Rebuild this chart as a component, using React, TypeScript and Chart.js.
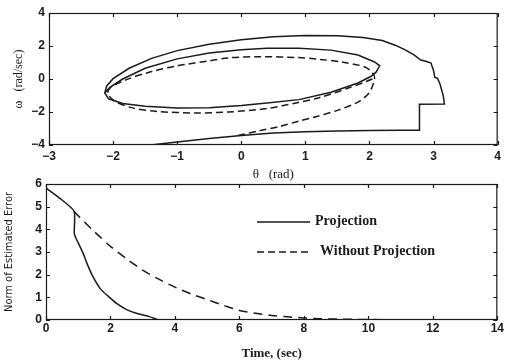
import React, { useEffect, useRef } from "react";
import { Chart, registerables } from "chart.js";
Chart.register(...registerables);

// ---- tick values ----
const thetaTicks = [-3, -2, -1, 0, 1, 2, 3, 4];
const omegaTicks = [-4, -2, 0, 2, 4];
const timeTicks = [0, 2, 4, 6, 8, 10, 12, 14];
const errorTicks = [0, 1, 2, 3, 4, 5, 6];

// ---- top: phase portrait (theta, omega) ----
const projTheta = [
  -1.45, -1.0, -0.5, 0.0, 0.5, 1.0, 1.5, 2.0, 2.5, 2.78,
  2.78, 3.17, 3.15, 3.1, 3.06, 3.02, 3.0, 2.96, 2.88, 2.8,
  2.7, 2.55, 2.4, 2.2, 1.9, 1.5, 1.0, 0.5, 0.0, -0.5, -1.0, -1.4, -1.75, -2.0, -2.1, -2.13,
  -2.07, -1.85, -1.5, -1.0, -0.5, 0.0, 0.4, 0.9, 1.4, 1.82, 2.02, 2.1, 2.16, 2.08, 1.82, 1.4, 0.9, 0.4, 0.0, -0.5, -1.0, -1.5, -1.85, -2.05, -2.13,
];
const projOmega = [
  -4.02, -3.82, -3.6, -3.42, -3.28, -3.2, -3.15, -3.12, -3.1, -3.1,
  -1.53, -1.52, -1.0, -0.3, 0.05, 0.1, 0.5, 0.97, 1.08, 1.15,
  1.45, 1.78, 2.05, 2.33, 2.52, 2.62, 2.64, 2.56, 2.38, 2.1, 1.72, 1.25, 0.65, 0.02, -0.42, -0.85,
  -1.2, -1.48, -1.65, -1.75, -1.74, -1.6, -1.45, -1.25, -0.8, -0.24, 0.15, 0.4, 0.8, 1.03, 1.45, 1.75, 1.87, 1.87, 1.78, 1.58, 1.22, 0.65, 0.0, -0.5, -0.85,
];
const noProjTheta = [
  -0.05, 0.3, 0.6, 0.9, 1.15, 1.5, 1.82, 1.97, 2.03, 2.08, 2.05, 1.93, 1.56, 1.2, 0.89, 0.3, -0.2,
  -0.5, -1.0, -1.4, -1.8, -2.05, -2.08, -1.97, -1.7, -1.3, -0.7, -0.2, 0.38, 0.89, 1.2, 1.67, 1.95, 2.07,
];
const noProjOmega = [
  -3.42, -3.12, -2.88, -2.55, -2.3, -1.9, -1.4, -0.95, -0.6, 0.05, 0.36, 0.73, 1.03, 1.2, 1.3, 1.35, 1.28,
  1.1, 0.8, 0.45, -0.05, -0.55, -0.9, -1.35, -1.75, -1.97, -2.06, -2.0, -1.8, -1.42, -1.15, -0.55, -0.15, 0.05,
];

// ---- bottom: norm of estimated error vs time ----
const projTime = [0, 0.4, 0.87, 0.88, 1.0, 1.15, 1.3, 1.46, 1.7, 1.97, 2.2, 2.5, 2.8, 3.2, 3.35, 3.5, 14];
const projError = [5.82, 5.4, 4.8, 3.8, 3.4, 2.95, 2.4, 1.9, 1.35, 1.0, 0.72, 0.46, 0.3, 0.15, 0.08, 0.0, 0.0];
const noProjTime = [0.87, 1.0, 1.5, 2.0, 2.5, 3.0, 3.5, 4.0, 4.5, 5.0, 5.5, 6.0, 6.5, 7.0, 7.5, 8.0, 8.5, 9, 10, 11, 12];
const noProjError = [4.8, 4.6, 3.9, 3.25, 2.7, 2.2, 1.8, 1.45, 1.15, 0.9, 0.65, 0.42, 0.3, 0.2, 0.14, 0.09, 0.06, 0.04, 0.02, 0.01, 0];

const legendLabels = ["Projection", "Without Projection"];

const INK = "#1a1a1a";
const TICK_FONT = { family: "'Liberation Sans', Arial, sans-serif", size: 12, weight: "bold" as const };
const fmt = (v: number) => (v < 0 ? "\u2212" + Math.abs(v) : String(v));

const pts = (xs: number[], ys: number[]) => xs.map((x, i) => ({ x, y: ys[i] }));

// Draws the frame and inward tick marks on all four sides (MATLAB style)
const framePlugin = {
  id: "frame",
  afterDatasetsDraw(chart: any) {
    const { ctx, chartArea } = chart;
    const { left, right, top, bottom } = chartArea;
    ctx.save();
    ctx.strokeStyle = INK;
    ctx.lineWidth = 1.2;
    ctx.strokeRect(left + 0.5, top + 0.5, right - left - 1, bottom - top - 1);
    const L = 4;
    const xs = chart.scales.x;
    const ys = chart.scales.y;
    ctx.beginPath();
    xs.ticks.forEach((t: any) => {
      const p = Math.round(xs.getPixelForValue(t.value)) + 0.5;
      ctx.moveTo(p, bottom);
      ctx.lineTo(p, bottom - L);
      ctx.moveTo(p, top);
      ctx.lineTo(p, top + L);
    });
    ys.ticks.forEach((t: any) => {
      const p = Math.round(ys.getPixelForValue(t.value)) + 0.5;
      ctx.moveTo(left, p);
      ctx.lineTo(left + L, p);
      ctx.moveTo(right, p);
      ctx.lineTo(right - L, p);
    });
    ctx.stroke();
    ctx.restore();
  },
};

// Legend drawn inside the lower axes
const legendPlugin = {
  id: "innerLegend",
  afterDraw(chart: any) {
    const { ctx } = chart;
    ctx.save();
    ctx.strokeStyle = INK;
    ctx.lineWidth = 1.3;
    ctx.beginPath();
    ctx.setLineDash([]);
    ctx.moveTo(257, 52);
    ctx.lineTo(310, 52);
    ctx.stroke();
    ctx.beginPath();
    ctx.setLineDash([7, 4]);
    ctx.moveTo(257, 82);
    ctx.lineTo(308, 82);
    ctx.stroke();
    ctx.setLineDash([]);
    ctx.fillStyle = INK;
    ctx.font = "bold 14px 'Liberation Serif', 'Times New Roman', serif";
    ctx.textBaseline = "middle";
    ctx.textAlign = "left";
    ctx.fillText(legendLabels[0], 315, 51);
    ctx.fillText(legendLabels[1], 320, 81);
    ctx.restore();
  },
};

function makeScale(
  ticksVals: number[],
  size: number,
  horizontal: boolean,
  pad: number,
  title: any
) {
  return {
    type: "linear" as const,
    min: ticksVals[0],
    max: ticksVals[ticksVals.length - 1],
    afterBuildTicks: (s: any) => {
      s.ticks = ticksVals.map((v) => ({ value: v }));
    },
    afterFit: (s: any) => {
      if (horizontal) s.height = size;
      else s.width = size;
    },
    grid: { display: false, drawTicks: false },
    border: { display: false },
    ticks: {
      color: INK,
      font: TICK_FONT,
      padding: pad,
      autoSkip: false,
      maxRotation: 0,
      callback: (v: any) => fmt(Number(v)),
    },
    title,
  };
}

export default function App() {
  const topRef = useRef<HTMLCanvasElement>(null);
  const botRef = useRef<HTMLCanvasElement>(null);

  useEffect(() => {
    const top = new Chart(topRef.current!, {
      type: "line",
      data: {
        datasets: [
          {
            data: pts(projTheta, projOmega),
            borderColor: INK,
            borderWidth: 1.5,
            pointRadius: 0,
            tension: 0,
            fill: false,
          },
          {
            data: pts(noProjTheta, noProjOmega),
            borderColor: INK,
            borderWidth: 1.5,
            borderDash: [7, 4],
            pointRadius: 0,
            tension: 0.3,
            fill: false,
          },
        ],
      },
      options: {
        animation: false,
        responsive: false,
        devicePixelRatio: 1,
        layout: { padding: { top: 13, right: 3, left: 0, bottom: 0 } },
        plugins: { legend: { display: false }, tooltip: { enabled: false } },
        scales: {
          x: makeScale(thetaTicks, 37, true, 4, {
            display: true,
            text: "\u03b8   (rad)",
            color: INK,
            font: { family: "'Liberation Serif', 'Times New Roman', serif", size: 13, lineHeight: 1 },
            padding: { top: 0, bottom: 1 },
          }),
          y: makeScale(omegaTicks, 49, false, 4, {
            display: true,
            text: "\u03c9   (rad/sec)",
            color: INK,
            font: { family: "'Liberation Serif', 'Times New Roman', serif", size: 12, lineHeight: 1 },
            padding: { top: 13, bottom: 0 },
          }),
        },
      },
      plugins: [framePlugin],
    });

    const bot = new Chart(botRef.current!, {
      type: "line",
      data: {
        datasets: [
          {
            data: pts(projTime, projError),
            borderColor: INK,
            borderWidth: 1.5,
            pointRadius: 0,
            tension: 0.2,
            fill: false,
          },
          {
            data: pts(noProjTime, noProjError),
            borderColor: INK,
            borderWidth: 1.5,
            borderDash: [9, 6],
            pointRadius: 0,
            tension: 0.3,
            fill: false,
          },
        ],
      },
      options: {
        animation: false,
        responsive: false,
        devicePixelRatio: 1,
        layout: { padding: { top: 14, right: 5, left: 0, bottom: 0 } },
        plugins: { legend: { display: false }, tooltip: { enabled: false } },
        scales: {
          x: makeScale(timeTicks, 40, true, 1, {
            display: true,
            text: "Time, (sec)",
            color: INK,
            font: { family: "'Liberation Serif', 'Times New Roman', serif", size: 13, weight: "bold", lineHeight: 1 },
            padding: { top: 0, bottom: 0 },
          }),
          y: makeScale(errorTicks, 46, false, 4, {
            display: true,
            text: "Norm of Estimated Error",
            color: INK,
            font: { family: "'Liberation Sans Narrow', 'DejaVu Sans Condensed', sans-serif", size: 11, lineHeight: 1 },
            padding: { top: 4, bottom: 0 },
          }),
        },
      },
      plugins: [framePlugin, legendPlugin],
    });

    return () => {
      top.destroy();
      bot.destroy();
    };
  }, []);

  return (
    <div style={{ position: "fixed", left: 0, top: 0, width: 505, height: 360, background: "#fff" }}>
      <canvas ref={topRef} width={505} height={182} style={{ position: "absolute", left: 0, top: 0 }} />
      <canvas ref={botRef} width={505} height={190} style={{ position: "absolute", left: 0, top: 170 }} />
    </div>
  );
}
